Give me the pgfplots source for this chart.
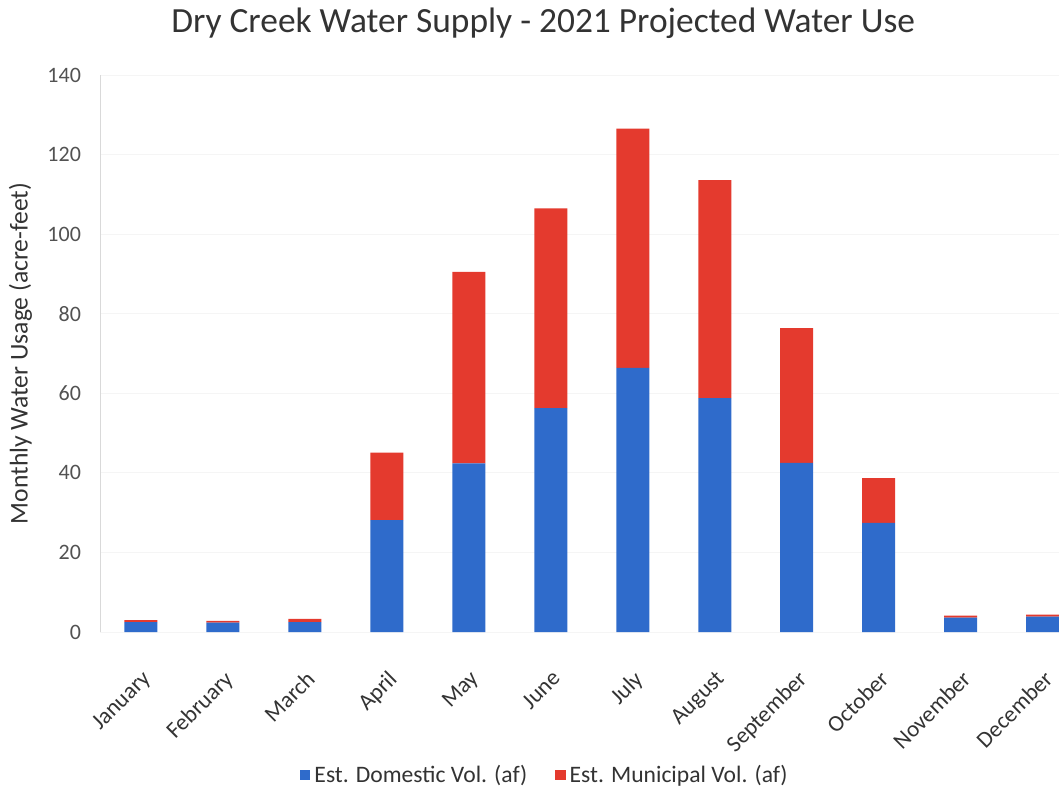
\documentclass[border=0pt]{standalone}
\usepackage{pgfplots}
\pgfplotsset{compat=1.18}
\usepackage{fontspec}
\setmainfont{Carlito}
\definecolor{domblue}{HTML}{2F6BCB}
\definecolor{munred}{HTML}{E43A2E}
\definecolor{txt}{HTML}{333333}
\begin{document}
\begin{tikzpicture}
    \path[use as bounding box] (0,0) rectangle (529.5pt,394.5pt);
    \begin{axis}[
        at={(50pt,78.5pt)},
        anchor=south west,
        scale only axis,
        width=479.5pt,
        height=278.5pt,
        ybar stacked,
        bar width=16.5pt,
        xmin=-0.5, xmax=11.2,
        ymin=0, ymax=140,
        ytick={0,20,...,140},
        xtick={0,...,11},
        xticklabels={January,February,March,April,May,June,July,August,September,October,November,December},
        xticklabel style={rotate=45, anchor=north east, font=\fontsize{11.5}{13}\selectfont, text=txt, inner sep=1pt, xshift=-12pt, yshift=-12pt},
        yticklabel style={font=\fontsize{11}{13}\selectfont, text=txt!85, xshift=-6pt},
        /pgf/number format/assume math mode=true,
        major tick length=0pt,
        axis x line*=bottom,
        axis y line*=left,
        x axis line style={draw=none},
        y axis line style={draw=gray!30},
        ymajorgrids,
        grid style={gray!8},
        ylabel={Monthly Water Usage (acre-feet)},
        ylabel style={font=\fontsize{12.8}{14}\selectfont, text=txt, at={(rel axis cs:-0.083,0.5)}, anchor=center},
        title={Dry Creek Water Supply - 2021 Projected Water Use},
        title style={font=\fontsize{17.7}{20}\selectfont, text=txt, at={(rel axis cs:0.462,1.072)}, anchor=center},
        legend style={at={(rel axis cs:0.465,-0.257)}, anchor=center, draw=none, legend columns=2,
            font=\fontsize{11.8}{14}\selectfont, text=txt,
            /tikz/every even column/.append style={column sep=12pt}},
        legend image code/.code={\fill[#1] (0pt,-2.6pt) rectangle (5.2pt,2.6pt);},
    ]
        \addplot[fill=domblue, draw=none] coordinates {
            (0,2.5) (1,2.35) (2,2.5) (3,28.1) (4,42.4) (5,56.3)
            (6,66.4) (7,58.8) (8,42.5) (9,27.4) (10,3.6) (11,3.85)
        };
        \addlegendentry{Est. Domestic Vol. (af)}
        \addplot[fill=munred, draw=none] coordinates {
            (0,0.5) (1,0.45) (2,0.8) (3,17.0) (4,48.1) (5,50.2)
            (6,60.1) (7,54.8) (8,33.9) (9,11.3) (10,0.5) (11,0.55)
        };
        \addlegendentry{Est. Municipal Vol. (af)}
    \end{axis}
\end{tikzpicture}
\end{document}
